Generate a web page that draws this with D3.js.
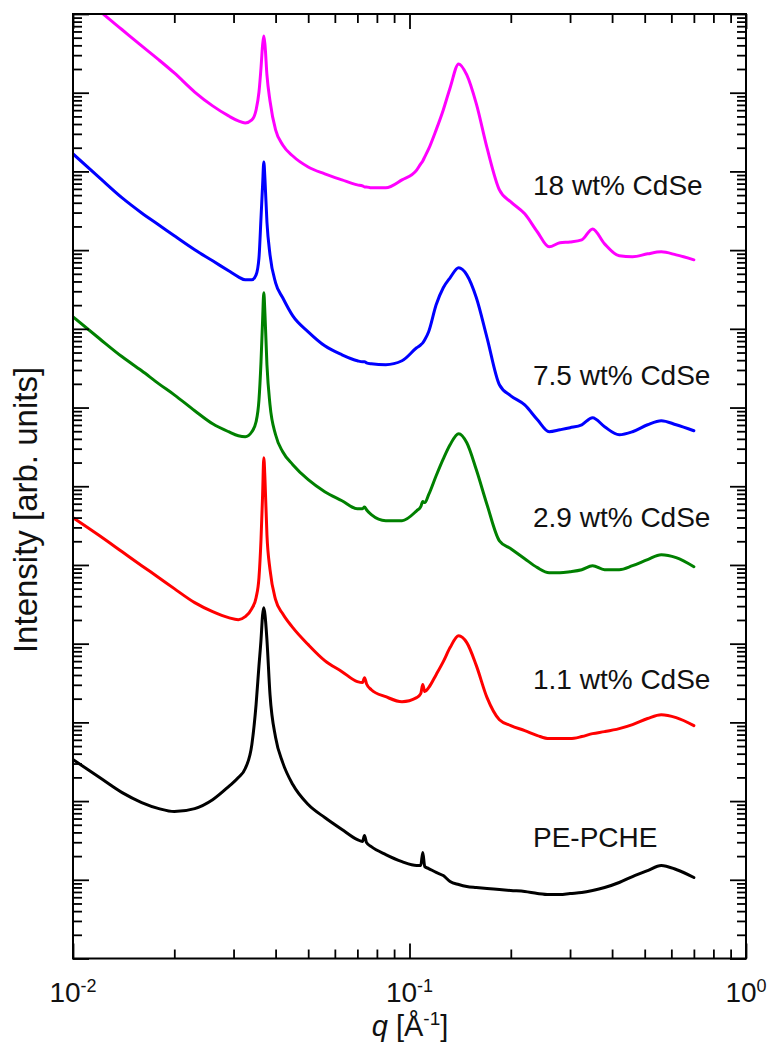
<!DOCTYPE html>
<html>
<head>
<meta charset="utf-8">
<script src="https://cdn.jsdelivr.net/npm/d3@7"></script>
<style>
  html, body { margin: 0; padding: 0; background: #fff; }
  svg { display: block; font-family: "Liberation Sans", Arial, sans-serif; }
</style>
</head>
<body>
<svg id="chart" width="768" height="1049"></svg>
<script>
// Scattering vector q [1/Å], shared by all curves
const q = [
  0.0100, 0.0120, 0.0140, 0.0160, 0.0180, 0.0200, 0.0230, 0.0260, 0.0290, 0.0310,
  0.0325, 0.0340, 0.0350, 0.0357, 0.0362, 0.0366, 0.0369, 0.0372, 0.0377, 0.0385,
  0.0400, 0.0420, 0.0450, 0.0500, 0.0560, 0.0630, 0.0700, 0.0725, 0.0735, 0.0745,
  0.0770, 0.0850, 0.0950, 0.1050, 0.1080, 0.1095, 0.1110, 0.1140, 0.1200, 0.1260,
  0.1320, 0.1400, 0.1480, 0.1580, 0.1700, 0.1850, 0.2000, 0.2200, 0.2400, 0.2600,
  0.2800, 0.3000, 0.3250, 0.3500, 0.3800, 0.4200, 0.4600, 0.5100, 0.5600, 0.6200,
  0.7000
];

// Intensities (arb. units, curves vertically offset)
const iPEPCHE = [
  3.37e2, 1.99e2, 1.28e2, 9.59e1, 8.03e1, 7.36e1, 8.03e1, 1.04e2, 1.53e2, 1.99e2,
  2.59e2, 5.22e2, 1.68e3, 5.26e3, 1.12e4, 2.33e4, 2.87e4, 2.33e4, 1.12e4, 2.25e3,
  6.41e2, 3.08e2, 1.62e2, 9.04e1, 6.18e1, 4.35e1, 3.24e1, 3.06e1, 3.65e1, 2.97e1,
  2.64e1, 2.09e1, 1.70e1, 1.52e1, 1.52e1, 2.22e1, 1.47e1, 1.39e1, 1.24e1, 1.13e1,
  9.51, 8.71, 8.22, 7.98, 7.75, 7.53, 7.31, 7.10, 6.70, 6.50,
  6.50, 6.70, 6.89, 7.31, 7.98, 9.24, 1.10e1, 1.31e1, 1.52e1, 1.35e1,
  1.07e1
];
const iCdSe1p1 = [
  3.99e5, 2.35e5, 1.47e5, 9.79e4, 6.89e4, 5.00e4, 3.32e4, 2.55e4, 2.14e4, 2.02e4,
  2.20e4, 2.78e4, 3.84e4, 6.89e4, 2.09e5, 7.81e5, 2.30e6, 1.21e6, 2.42e5, 8.71e4,
  3.62e4, 2.40e4, 1.60e4, 9.72e3, 6.09e3, 4.41e3, 3.29e3, 3.20e3, 3.70e3, 3.10e3,
  2.60e3, 2.12e3, 1.83e3, 2.06e3, 2.32e3, 3.02e3, 2.46e3, 2.76e3, 4.04e3, 5.91e3,
  8.91e3, 1.26e4, 1.03e4, 5.26e3, 2.06e3, 1.08e3, 9.11e2, 7.86e2, 6.80e2, 6.22e2,
  6.22e2, 6.22e2, 6.60e2, 7.20e2, 7.63e2, 8.34e2, 9.38e2, 1.12e3, 1.25e3, 1.15e3,
  9.11e2
];
const iCdSe2p9 = [
  1.42e8, 7.48e7, 4.41e7, 2.93e7, 2.00e7, 1.45e7, 9.11e6, 6.22e6, 4.93e6, 4.38e6,
  4.26e6, 4.93e6, 6.60e6, 1.25e7, 3.81e7, 1.30e8, 2.87e8, 1.51e8, 3.50e7, 1.08e7,
  4.51e6, 2.74e6, 1.88e6, 1.21e6, 8.52e5, 6.55e5, 5.18e5, 5.18e5, 5.45e5, 5.03e5,
  4.35e5, 3.65e5, 3.65e5, 4.88e5, 5.50e5, 6.40e5, 6.20e5, 7.81e5, 1.36e6, 2.23e6,
  3.37e6, 4.65e6, 3.57e6, 1.62e6, 5.83e5, 2.03e5, 1.61e5, 1.20e5, 9.24e4, 7.98e4,
  7.98e4, 8.22e4, 8.71e4, 9.79e4, 8.71e4, 8.71e4, 9.79e4, 1.17e5, 1.35e5, 1.24e5,
  9.51e4
];
const iCdSe7p5 = [
  1.67e10, 8.28e9, 4.61e9, 2.97e9, 2.09e9, 1.52e9, 1.01e9, 7.31e8, 5.46e8, 4.58e8,
  4.19e8, 4.19e8, 4.85e8, 7.98e8, 2.57e9, 6.75e9, 1.32e10, 7.81e9, 2.28e9, 8.71e8,
  3.84e8, 2.48e8, 1.46e8, 9.17e7, 6.09e7, 4.68e7, 3.93e7, 3.81e7, 3.81e7, 3.70e7,
  3.60e7, 3.50e7, 3.93e7, 5.74e7, 6.27e7, 6.64e7, 7.26e7, 9.17e7, 2.02e8, 3.32e8,
  4.45e8, 5.96e8, 4.85e8, 2.48e8, 7.69e7, 1.95e7, 1.41e7, 1.08e7, 6.99e6, 4.93e6,
  5.22e6, 5.54e6, 6.04e6, 7.42e6, 5.70e6, 4.51e6, 4.93e6, 6.04e6, 6.80e6, 6.04e6,
  5.07e6
];
const iCdSe18 = [
  2.14e12, 1.09e12, 6.31e11, 3.93e11, 2.61e11, 1.78e11, 1.02e11, 6.80e10, 5.07e10, 4.38e10,
  4.13e10, 4.51e10, 6.04e10, 1.02e11, 2.06e11, 4.04e11, 5.26e11, 4.04e11, 1.68e11, 7.86e10,
  3.37e10, 2.17e10, 1.57e10, 1.14e10, 9.31e9, 7.81e9, 6.75e9, 6.55e9, 6.36e9, 6.36e9,
  6.18e9, 6.18e9, 7.81e9, 1.04e10, 1.25e10, 1.36e10, 1.53e10, 1.93e10, 3.37e10, 6.04e10,
  1.15e11, 2.32e11, 1.68e11, 7.20e10, 1.99e10, 5.83e9, 4.10e9, 2.89e9, 1.70e9, 1.10e9,
  1.24e9, 1.27e9, 1.35e9, 1.86e9, 1.20e9, 8.46e8, 8.22e8, 8.97e8, 9.51e8, 8.71e8,
  7.53e8
];

const seriesNames = ["PE-PCHE", "1.1 wt% CdSe", "2.9 wt% CdSe", "7.5 wt% CdSe", "18 wt% CdSe"];
const xTickExponents = [-2, -1, 0];

// ---- layout and styles ----
const seriesColors = ["#000000", "#ff0000", "#008000", "#0000ff", "#ff00ff"];
const labelBaselines = [847, 689, 527, 385, 195];
const frame = { left: 73, right: 746, top: 14, bottom: 958.5 };

const x = d3.scaleLog().domain([1e-2, 1]).range([frame.left, frame.right]);
const y = d3.scaleLog().domain([1, 1e12]).range([frame.bottom, frame.top]);

const svg = d3.select("#chart");

svg.append("defs").append("clipPath").attr("id", "plot-area")
  .append("rect")
  .attr("x", frame.left).attr("y", frame.top)
  .attr("width", frame.right - frame.left)
  .attr("height", frame.bottom - frame.top);

// ---- curves ----
const series = seriesNames.map((name, i) => ({
  name,
  values: [iPEPCHE, iCdSe1p1, iCdSe2p9, iCdSe7p5, iCdSe18][i],
  color: seriesColors[i],
  labelY: labelBaselines[i]
}));

const line = d3.line()
  .x((d, i) => x(q[i]))
  .y(d => y(d))
  .curve(d3.curveMonotoneX);

svg.append("g")
  .attr("clip-path", "url(#plot-area)")
  .selectAll("path")
  .data(series)
  .join("path")
  .attr("d", d => line(d.values))
  .attr("fill", "none")
  .attr("stroke", d => d.color)
  .attr("stroke-width", 3)
  .attr("stroke-linejoin", "round")
  .attr("stroke-linecap", "round");

// ---- axes: inward ticks on all four sides ----
const xMajor = xTickExponents.map(e => Math.pow(10, e));
const xMinor = x.ticks().filter(v => !xMajor.some(m => Math.abs(m - v) / m < 1e-9));
const yMajor = d3.range(0, 13).map(k => Math.pow(10, k));
const yMinor = [];
for (let k = 0; k < 12; k++) for (let m = 2; m <= 9; m++) yMinor.push(m * Math.pow(10, k));

function tickLayer(axis, tx, ty) {
  const g = svg.append("g").attr("transform", `translate(${tx},${ty})`).call(axis);
  g.select(".domain").remove();
  g.selectAll("text").remove();
  g.selectAll("line").attr("stroke", "#000").attr("stroke-width", 1.8);
}
const MINOR = 9, MAJOR = 15;
tickLayer(d3.axisBottom(x).tickValues(xMinor).tickSize(-MINOR), 0, frame.bottom);
tickLayer(d3.axisBottom(x).tickValues(xMajor).tickSize(-MAJOR), 0, frame.bottom);
tickLayer(d3.axisTop(x).tickValues(xMinor).tickSize(-MINOR), 0, frame.top);
tickLayer(d3.axisTop(x).tickValues(xMajor).tickSize(-MAJOR), 0, frame.top);
tickLayer(d3.axisLeft(y).tickValues(yMinor).tickSize(-MINOR), frame.left, 0);
tickLayer(d3.axisLeft(y).tickValues(yMajor).tickSize(-16), frame.left, 0);
tickLayer(d3.axisRight(y).tickValues(yMinor).tickSize(-MINOR), frame.right, 0);
tickLayer(d3.axisRight(y).tickValues(yMajor).tickSize(-16), frame.right, 0);

svg.append("rect")
  .attr("x", frame.left).attr("y", frame.top)
  .attr("width", frame.right - frame.left)
  .attr("height", frame.bottom - frame.top)
  .attr("fill", "none")
  .attr("stroke", "#000")
  .attr("stroke-width", 2);

// ---- x tick labels 10^n ----
const tickText = svg.append("g")
  .selectAll("text")
  .data(xTickExponents)
  .join("text")
  .attr("x", e => x(Math.pow(10, e)))
  .attr("y", 1002)
  .attr("text-anchor", "middle")
  .attr("font-size", 28)
  .attr("fill", "#111");
tickText.append("tspan").text("10");
tickText.append("tspan").attr("dy", -10).attr("font-size", 18).text(e => String(e));

// ---- axis titles ----
const xTitle = svg.append("text")
  .attr("x", 410).attr("y", 1036)
  .attr("text-anchor", "middle")
  .attr("font-size", 29)
  .attr("fill", "#111");
xTitle.append("tspan").attr("font-style", "italic").text("q");
xTitle.append("tspan").text(" [Å");
xTitle.append("tspan").attr("dy", -11).attr("font-size", 19).text("-1");
xTitle.append("tspan").attr("dy", 11).text("]");

svg.append("text")
  .attr("transform", "translate(37,510) rotate(-90)")
  .attr("text-anchor", "middle")
  .attr("font-size", 33)
  .attr("fill", "#111")
  .text("Intensity [arb. units]");

// ---- curve labels ----
svg.append("g")
  .selectAll("text")
  .data(series)
  .join("text")
  .attr("x", 533)
  .attr("y", d => d.labelY)
  .attr("font-size", 28)
  .attr("fill", "#111")
  .text(d => d.name);
</script>
</body>
</html>
